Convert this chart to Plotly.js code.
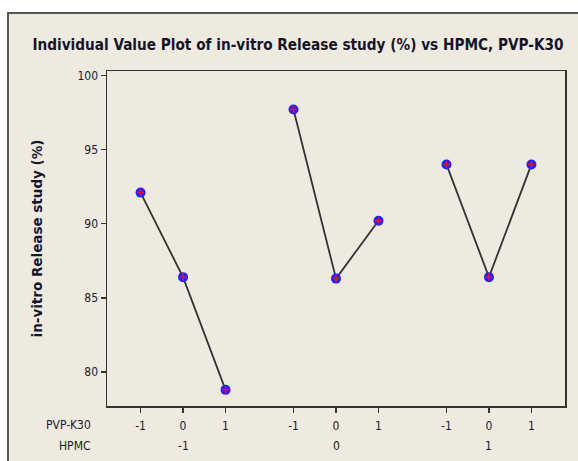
<!DOCTYPE html>
<html>
<head>
<meta charset="utf-8">
<script src="https://cdn.plot.ly/plotly-3.0.1.min.js"></script>
<style>
  html, body { margin: 0; padding: 0; background: #ffffff; }
  #chart { width: 578px; height: 461px; }
</style>
</head>
<body>
<div id="chart"></div>
<script>
// Factor levels
var hpmcLevels = [-1, 0, 1];
var pvpLevels = [-1, 0, 1];
// in-vitro release (%) for each HPMC level, listed by PVP-K30 level (-1, 0, 1)
var releaseHpmcMinus1 = [92.1, 86.4, 78.8];
var releaseHpmc0 = [97.7, 86.3, 90.2];
var releaseHpmcPlus1 = [94.0, 86.4, 94.0];
var releaseByHpmc = [releaseHpmcMinus1, releaseHpmc0, releaseHpmcPlus1];

// horizontal spacing between HPMC groups (in PVP-level units)
var groupGap = 3.6;

var xs = [], ys = [], tickVals = [], tickText = [];
var lineX = [], lineY = [];
var groupCenters = [];
hpmcLevels.forEach(function (h, gi) {
  groupCenters.push(gi * groupGap);
  pvpLevels.forEach(function (p, pi) {
    var x = gi * groupGap + p;
    xs.push(x);
    ys.push(releaseByHpmc[gi][pi]);
    lineX.push(x);
    lineY.push(releaseByHpmc[gi][pi]);
    tickVals.push(x);
    tickText.push(String(p));
  });
  lineX.push(null);
  lineY.push(null);
});

var tickFont = { family: 'DejaVu Sans Condensed, DejaVu Sans, sans-serif', size: 12, color: '#1b1b2b' };

var traces = [
  {
    x: lineX, y: lineY, mode: 'lines', type: 'scatter',
    line: { color: '#333333', width: 1.8 }, connectgaps: false, hoverinfo: 'skip'
  },
  {
    x: xs, y: ys, mode: 'markers', type: 'scatter',
    marker: { symbol: 'circle', size: 10, color: '#2222ff', line: { width: 0 } }
  },
  {
    x: xs, y: ys, mode: 'markers', type: 'scatter',
    marker: { symbol: 'cross-thin', size: 5, line: { color: '#e0103a', width: 1.5 } }
  }
];

var annotations = [
  {
    text: 'PVP-K30', xref: 'paper', yref: 'paper', x: -0.03, y: -0.057,
    xanchor: 'right', yanchor: 'middle', showarrow: false, font: tickFont
  },
  {
    text: 'HPMC', xref: 'paper', yref: 'paper', x: -0.03, y: -0.12,
    xanchor: 'right', yanchor: 'middle', showarrow: false, font: tickFont
  }
];
hpmcLevels.forEach(function (h, gi) {
  annotations.push({
    text: String(h), xref: 'x', yref: 'paper', x: groupCenters[gi], y: -0.12,
    xanchor: 'center', yanchor: 'middle', showarrow: false, font: tickFont
  });
});

var layout = {
  width: 578, height: 461,
  margin: { l: 107, r: 13, t: 71, b: 55 },
  paper_bgcolor: '#ffffff',
  plot_bgcolor: '#ffffff',
  showlegend: false,
  title: {
    text: '<b>Individual Value Plot of in-vitro Release study (%) vs HPMC, PVP-K30</b>',
    xref: 'container', yref: 'container', x: 0.5156, y: 0.902,
    xanchor: 'center', yanchor: 'middle',
    font: { family: 'DejaVu Sans Condensed, DejaVu Sans, sans-serif', size: 15.2, color: '#15152a' }
  },
  xaxis: {
    range: [-1.79, 8.99],
    tickmode: 'array', tickvals: tickVals, ticktext: tickText,
    ticks: 'outside', ticklen: 5, tickwidth: 1.5, tickcolor: '#333',
    ticklabelstandoff: 3,
    showgrid: false, zeroline: false,
    showline: true, mirror: true, linecolor: '#333', linewidth: 1.5,
    tickfont: tickFont, fixedrange: true
  },
  yaxis: {
    range: [77.71, 100.3],
    tickmode: 'array', tickvals: [80, 85, 90, 95, 100],
    ticks: 'outside', ticklen: 5, tickwidth: 1.5, tickcolor: '#333',
    showgrid: false, zeroline: false,
    showline: true, mirror: true, linecolor: '#333', linewidth: 1.5,
    tickfont: tickFont, fixedrange: true,
    title: {
      text: '<b>in-vitro Release study (%)</b>', standoff: 32,
      font: { family: 'DejaVu Sans, sans-serif', size: 13.5, color: '#15152a' }
    }
  },
  shapes: [
    {
      type: 'rect', xref: 'paper', yref: 'paper', layer: 'below',
      x0: -0.2162, x1: 1.1, y0: -0.25, y1: 1.1731,
      fillcolor: '#eeeae0', line: { color: '#555555', width: 2 }
    }
  ],
  annotations: annotations
};

Plotly.newPlot('chart', traces, layout, { displayModeBar: false, staticPlot: true });
</script>
</body>
</html>
